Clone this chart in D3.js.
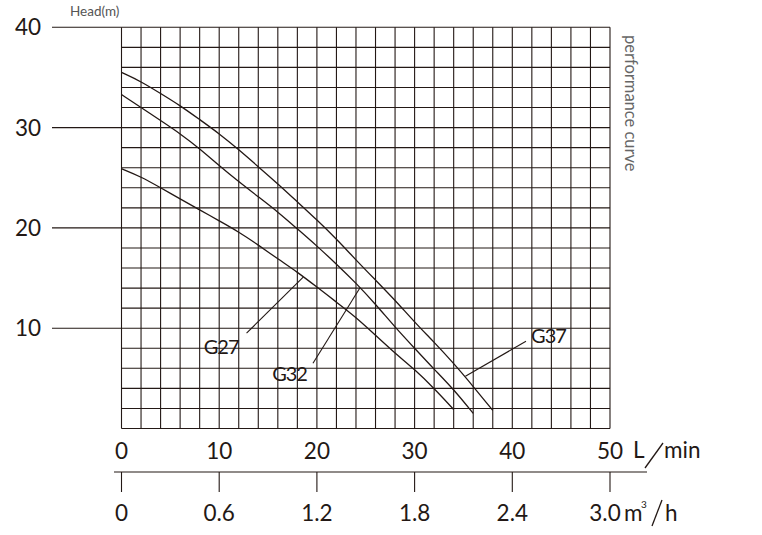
<!DOCTYPE html>
<html><head><meta charset="utf-8">
<script src="https://cdn.jsdelivr.net/npm/d3@7"></script>
<style>
html,body{margin:0;padding:0;background:#fff;}
svg{display:block;font-family:Lato,"Open Sans",sans-serif;}
</style></head>
<body>
<script>
// ---- data ----
const flowG37 = [0,2,4,6,8,10,12,14,16,18,20,22,24,26,28,30,32,34,36,38];
const headG37 = [35.5,34.6,33.4,32.2,30.8,29.4,27.8,26.1,24.4,22.6,20.8,18.9,16.8,14.8,12.8,10.6,8.6,6.5,4.2,1.8];
const flowG32 = [0,2,4,6,8,10,12,14,16,18,20,22,24,26,28,30,32,34,36];
const headG32 = [33.3,32.0,30.7,29.4,27.9,26.2,24.6,23.1,21.6,19.9,18.2,16.4,14.5,12.4,10.1,8.0,5.9,3.9,1.5];
const flowG27 = [0,2,4,6,8,10,12,14,16,18,20,22,24,26,28,30,32,34];
const headG27 = [25.9,25.1,24.0,22.9,21.8,20.7,19.6,18.3,16.9,15.6,14.1,12.6,11.1,9.3,7.5,5.9,4.0,1.9];
const seriesNames = ["G37","G32","G27"];
const headTicks = [10,20,30,40];
const flowTicks = [0,10,20,30,40,50];
const m3Ticks = [0,0.6,1.2,1.8,2.4,3.0];
const m3TickLabels = ["0","0.6","1.2","1.8","2.4","3.0"];
// leader lines: [flow,head] on curve -> [flow,head] toward label
const leaderG27 = [[18.6,15.1],[12.8,9.5]];
const leaderG32 = [[24.4,14.0],[19.6,6.5]];
const leaderG37 = [[35.2,5.2],[41.4,8.7]];
const labelPos = {G27:[10.2,7.4], G32:[17.2,4.7], G37:[43.7,8.5]};

const W=762,H=535;
const svg=d3.select("body").append("svg").attr("width",W).attr("height",H);
const x=d3.scaleLinear().domain([0,50]).range([121.5,610]);
const y=d3.scaleLinear().domain([0,40]).range([428.5,27.3]);
const x2=d3.scaleLinear().domain([0,3]).range([121.5,610]);
const ink="#231815";
const fs=22.5;

// grid
const g=svg.append("g");
g.selectAll("line.v").data(d3.range(0,51,2)).join("line")
 .attr("x1",d=>x(d)).attr("x2",d=>x(d)).attr("y1",y(40)).attr("y2",y(0))
 .attr("stroke",ink).attr("stroke-width",1.1);
g.selectAll("line.h").data(d3.range(0,41,2)).join("line")
 .attr("x1",x(0)).attr("x2",x(50)).attr("y1",d=>y(d)).attr("y2",d=>y(d))
 .attr("stroke",ink).attr("stroke-width",1.1);

// y ticks
g.selectAll("line.yt").data(headTicks).join("line")
 .attr("x1",52).attr("x2",x(0)).attr("y1",d=>y(d)).attr("y2",d=>y(d))
 .attr("stroke",ink).attr("stroke-width",1.1);
g.selectAll("text.yl").data(headTicks).join("text")
 .attr("x",41).attr("y",d=>y(d)+8).attr("text-anchor","end")
 .attr("font-size",fs).attr("fill",ink).text(d=>d);
svg.append("text").attr("x",70).attr("y",16).attr("font-size",13.5).attr("fill","#555").text("Head(m)");
svg.append("text").attr("transform","translate(625,35) rotate(90)")
 .attr("font-size",16.5).attr("fill","#666").text("performance curve");

// x axis L/min labels
g.selectAll("text.xl").data(flowTicks).join("text")
 .attr("x",d=>x(d)).attr("y",459).attr("text-anchor","middle")
 .attr("font-size",fs).attr("fill",ink).text(d=>d);
svg.append("text").attr("x",633).attr("y",458).attr("font-size",fs).attr("fill",ink).text("L");
svg.append("line").attr("x1",645).attr("y1",468).attr("x2",663).attr("y2",443).attr("stroke",ink).attr("stroke-width",1.3);
svg.append("text").attr("x",664).attr("y",458).attr("font-size",fs).attr("fill",ink).text("min");

// m3/h axis
svg.append("line").attr("x1",114).attr("x2",647).attr("y1",472).attr("y2",472).attr("stroke",ink).attr("stroke-width",1.1);
svg.selectAll("line.mt").data(m3Ticks).join("line")
 .attr("x1",d=>x2(d)).attr("x2",d=>x2(d)).attr("y1",472).attr("y2",492)
 .attr("stroke",ink).attr("stroke-width",1.1);
svg.selectAll("text.ml").data(m3Ticks).join("text")
 .attr("x",d=>x2(d)-(d===3?5:0)).attr("y",521).attr("text-anchor","middle")
 .attr("font-size",fs).attr("fill",ink).text((d,i)=>m3TickLabels[i]);
svg.append("text").attr("x",624).attr("y",521).attr("font-size",fs).attr("fill",ink).text("m");
svg.append("text").attr("x",641).attr("y",508).attr("font-size",10).attr("fill",ink).text("3");
svg.append("line").attr("x1",652).attr("y1",526).attr("x2",662).attr("y2",500).attr("stroke",ink).attr("stroke-width",1.3);
svg.append("text").attr("x",665).attr("y",521).attr("font-size",fs).attr("fill",ink).text("h");

// curves
const line=d3.line().x(d=>x(d[0])).y(d=>y(d[1])).curve(d3.curveBasis);
const series=[d3.zip(flowG37,headG37),d3.zip(flowG32,headG32),d3.zip(flowG27,headG27)];
svg.selectAll("path.c").data(series).join("path")
 .attr("d",line).attr("fill","none").attr("stroke",ink).attr("stroke-width",1.3);

// leaders
const lead=d3.line().x(d=>x(d[0])).y(d=>y(d[1]));
svg.selectAll("path.l").data([leaderG37,leaderG32,leaderG27]).join("path")
 .attr("d",lead).attr("fill","none").attr("stroke",ink).attr("stroke-width",1.1);
svg.selectAll("text.s").data(seriesNames).join("text")
 .attr("x",d=>x(labelPos[d][0])).attr("y",d=>y(labelPos[d][1]))
 .attr("font-size",20).attr("letter-spacing",-1).attr("fill",ink).attr("text-anchor","middle")
 .text(d=>d);
</script>
</body></html>
